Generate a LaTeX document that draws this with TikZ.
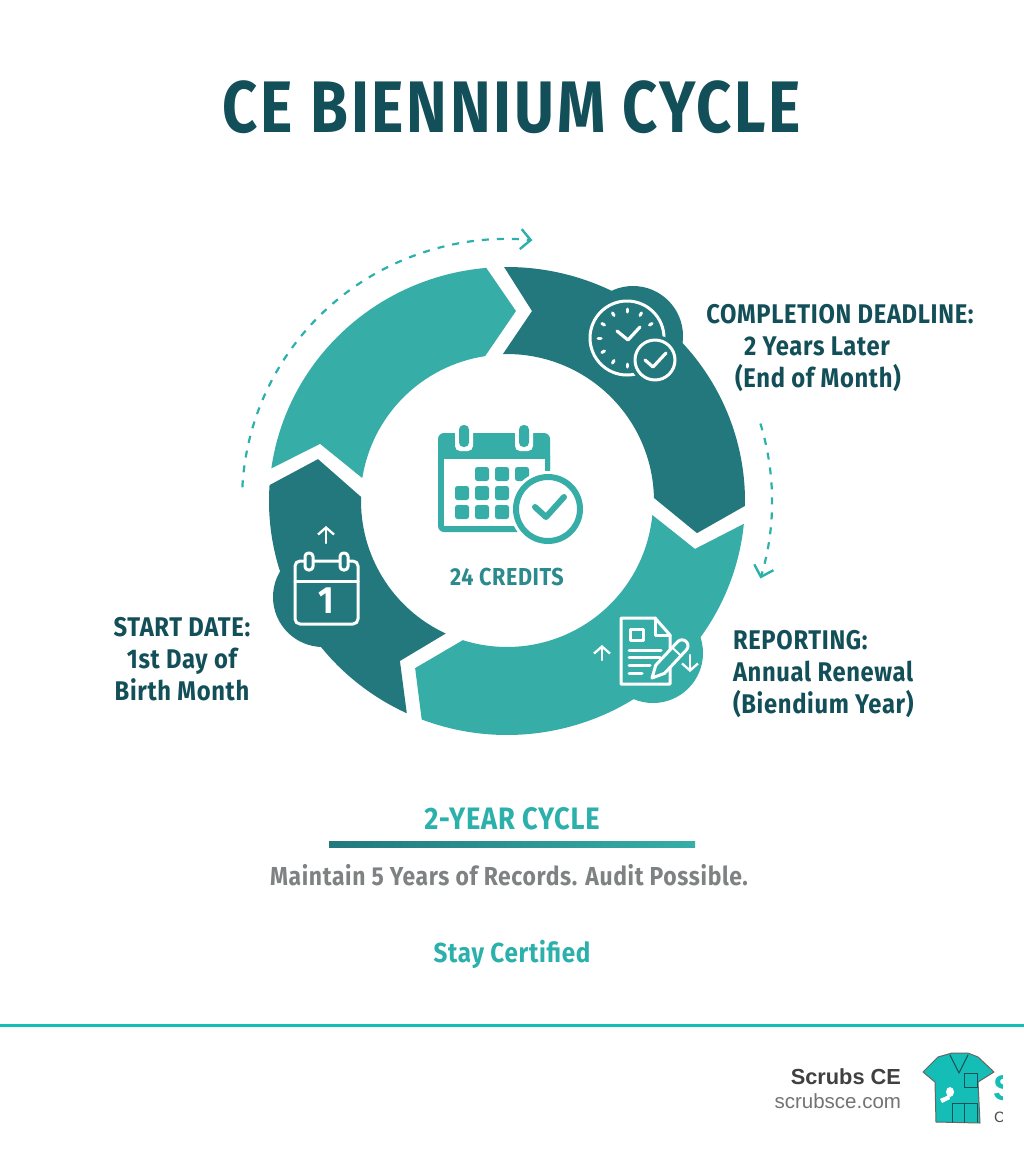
\documentclass[tikz,border=0pt]{standalone}
\usepackage{fontspec}
\usetikzlibrary{arrows.meta}
\setmainfont{Liberation Sans}
\newfontfamily\titlefont[FakeStretch=0.84, LetterSpace=3.8]{Fira Sans}
\newfontfamily\stepfont[FakeStretch=0.88, LetterSpace=2.5]{Fira Sans}
\definecolor{lightteal}{HTML}{37ADA8}
\definecolor{darkteal}{HTML}{23787E}
\definecolor{headteal}{HTML}{134F58}
\definecolor{midteal}{HTML}{2A8A8C}
\definecolor{dashteal}{HTML}{2BB0AB}
\definecolor{ruleteal}{HTML}{14BDB5}
\definecolor{greytext}{HTML}{7F8283}

\begin{document}
\begin{tikzpicture}[x = 1pt, y = -1pt, % picture is laid out in pixels, y going down
                > = {Straight Barb[length=10pt, width=20pt, line width=2.4pt]}, % arrow head style
                line cap = round, line join = round
            ]

            \tikzstyle{every node}=[inner sep = 0pt, outer sep = 0pt]
            \tikzstyle{stepnote}=[font = \stepfont\bfseries\fontsize{27}{32}\selectfont,
            text = headteal]
            \tikzstyle{dashcurve}=[->, draw = dashteal, line width = 2.2pt, line cap = butt,
            dash pattern = on 7pt off 8pt]
            \tikzstyle{glyph}=[draw = white, line width = 3pt]
            \tikzstyle{tinyarrow}=[draw = white, line width = 2.3pt,
            -{Straight Barb[length=7pt, width=16pt, line width=2.3pt]}]

            \useasboundingbox (0,0) rectangle (1024,1154);
            \fill[white] (0,0) rectangle (1024,1154);

            \node (title) at (512,107) [font = \titlefont\bfseries\fontsize{73}{80}\selectfont,
            text = headteal] {CE BIENNIUM CYCLE};

            % the ring, angles around its centre
            \begin{scope}[shift = {(507,501)}, y = 1pt]
                \fill[lightteal] (172:238 and 234) arc (172:95:238 and 234) -- (87.3:190.2)
                -- (98.6:146.5) arc (98.6:171:146.5) -- (163:195.5) -- cycle;
                \fill[darkteal] (90.7:238 and 234) arc (90.7:-1.2:238 and 234) -- (-9.6:192.7)
                -- (1.2:147) arc (1.2:91.6:147) -- (82.5:191.6) -- cycle;
                \fill[lightteal] (-5.6:238 and 234) arc (-5.6:-111:238 and 234) -- (-118.8:190.7)
                -- (-107.6:146) arc (-107.6:-5.5:146) -- (-14.3:194) -- cycle;
                \fill[darkteal] (176.1:238 and 234) -- (167.5:193.6) -- (178.4:146)
                arc (178.4:245.2:146) -- (236.2:192.5) -- (245.1:238 and 234)
                arc (245.1:176.1:238 and 234) -- cycle;

                \coordinate (leftstart) at (177:265 and 262);
                \coordinate (rightstart) at (17:265);
                \draw[dashcurve] (leftstart) arc (177:84.5:265 and 262);
                \draw[dashcurve] (rightstart) arc (17:-17:265);
            \end{scope}

            % bumps on the ring
            \fill[darkteal] (633,336) circle (50pt);
            \fill[lightteal] (653,653) circle (50pt);
            \fill[darkteal] (323,597) circle (50pt);

            % clock
            \draw[glyph] (627,338) circle (37pt);
            \foreach \a in {0,30,...,330}
                \draw[glyph] (627,338) ++(\a:26) -- ++(\a:3);
            \draw[glyph, line width = 3.2pt] (617,331) -- (628,340) -- (640,327);
            \fill[darkteal] (655,360) circle (25pt);
            \draw[glyph, fill = darkteal] (655,360) circle (20pt);
            \draw[glyph, line width = 3.2pt] (645,360) -- (653,367) -- (666,353);

            % start calendar
            \draw[tinyarrow] (326,543) -- (326,526);
            \draw[glyph, rounded corners = 5pt] (295,561) rectangle (358,624);
            \draw[glyph] (295,581) -- (358,581);
            \foreach \x in {309,344}
                \draw[glyph, fill = darkteal, rounded corners = 3.5pt] (\x-4,553) rectangle (\x+4,570);
            \node (one) at (326,601) [font = \stepfont\bfseries\fontsize{38}{38}\selectfont,
            text = white] {1};

            % report sheet
            \draw[tinyarrow] (602,660) -- (602,645);
            \draw[tinyarrow] (690,655) -- (690,672);
            \draw[glyph] (655,618) -- (621,618) -- (621,684) -- (670,684) -- (670,635) -- cycle;
            \draw[glyph] (655,618) -- (655,635) -- (670,635);
            \draw[glyph] (630,629) rectangle (643,640);
            \draw[glyph] (629,650) -- (661,650);
            \draw[glyph] (629,657) -- (660,657);
            \draw[glyph] (629,665) -- (650,665);
            \draw[glyph] (629,673) -- (642,673);
            \begin{scope}[shift = {(652,678)}, rotate = 47]
                \draw[glyph, fill = lightteal] (0,0) -- (12,-6) -- (44,-6)
                arc (90:-90:6pt) -- (12,6) -- cycle;
                \draw[glyph, line width = 2pt] (36,-6) -- (36,6);
            \end{scope}

            % centre calendar
            \fill[lightteal, rounded corners = 6pt] (438,433) rectangle (550,475);
            \fill[lightteal, rounded corners = 6pt] (438,450) rectangle (550,532);
            \fill[white] (444,459) rectangle (545,526);
            \foreach \x in {464,524} {
                \fill[white, rounded corners = 5pt] (\x-9,421) rectangle (\x+9,451);
                \fill[lightteal, rounded corners = 4.5pt] (\x-5,425) rectangle (\x+5,447);
            }
            \foreach \x/\y in {482/474,502/474,522/474,462/493,482/493,502/493,462/512,482/512,502/512}
                \fill[lightteal, rounded corners = 2.5pt] (\x-7,\y-7) rectangle (\x+7,\y+7);
            \draw[draw = white, line width = 10pt, fill = white] (548,509) circle (33pt);
            \draw[lightteal, line width = 6pt] (548,509) circle (32pt);
            \draw[lightteal, line width = 6pt] (535,507) -- (546,517) -- (564,497);

            \node (credits) at (507,577) [font = \stepfont\bfseries\fontsize{24.5}{30}\selectfont,
            text = midteal] {24 CREDITS};

            % notes beside the ring
            \node (deadlinehead) at (840,314) [stepnote] {COMPLETION DEADLINE:};
            \node (deadlineyears) at (817,346) [stepnote] {2 Years Later};
            \node (deadlinemonth) at (818,378) [stepnote] {(End of Month)};
            \node (reporting) at (733,674) [stepnote, anchor = west, align = left] {REPORTING:\\
                Annual Renewal\\(Biendium Year)};
            \node (startdate) at (182,659) [stepnote, align = center] {START DATE:\\
                1st Day of\\Birth Month};

            % lower block
            \node (cycle) at (512,819) [font = \stepfont\bfseries\fontsize{31}{36}\selectfont,
            text = dashteal] {2-YEAR CYCLE};
            \shade[left color = darkteal, right color = lightteal] (329,841) rectangle (695,847);
            \node (records) at (509,875) [font = \stepfont\bfseries\fontsize{26}{32}\selectfont,
            text = greytext] {Maintain 5 Years of Records. Audit Possible.};
            \node (certified) at (512,954) [font = \stepfont\bfseries\fontsize{27.5}{32}\selectfont,
            text = dashteal] {Stay Certified};

            \fill[ruleteal] (0,1024) rectangle (1024,1027);

            % footer
            \node (brand) at (901,1077) [anchor = east, font = \bfseries\fontsize{21.8}{26}\selectfont,
            text = black!75] {Scrubs CE};
            \node (site) at (901,1101) [anchor = east, font = \fontsize{20.5}{24}\selectfont,
            text = black!55] {scrubsce.com};

            \draw[fill = ruleteal, draw = black!60, line width = 1pt]
            (952,1053) -- (938,1057) -- (923,1072) -- (935,1082) -- (936,1122)
            -- (980,1123) -- (978,1082) -- (994,1072) -- (978,1057) -- (968,1053) -- cycle;
            \draw[headteal, line width = 1pt] (950,1055) -- (959,1073) -- (968,1055);
            \draw[headteal, line width = 1pt] (964,1073) rectangle (977,1087);
            \draw[headteal, line width = 1pt] (952,1122) -- (952,1103) -- (977,1103) -- (977,1122);
            \draw[headteal, line width = 1pt] (964,1103) -- (964,1122);
            \fill[white] (950,1092) ellipse (4pt and 5pt);
            \fill[white] (949,1095) -- (940,1099) -- (942,1103) -- (950,1099) -- cycle;

            \begin{scope}
                \clip (990,1060) rectangle (1002,1130);
                \node (cutletter) at (993,1088) [anchor = west,
                font = \bfseries\fontsize{36}{36}\selectfont, text = ruleteal] {S};
                \node (cutword) at (994,1117) [anchor = west,
                font = \fontsize{15}{15}\selectfont, text = black!70] {C};
            \end{scope}
\end{tikzpicture}
\end{document}
